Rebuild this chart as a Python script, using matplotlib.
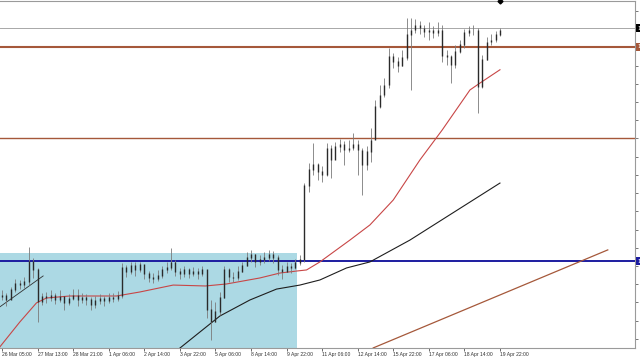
import numpy as np
import matplotlib.pyplot as plt
import matplotlib.transforms as mtransforms

# ---- price data (one drawn candle = 4 H1 bars) ----
closes = [1.07240, 1.07213, 1.07268, 1.07306, 1.07295, 1.07312, 1.07422, 1.07378, 1.07202, 1.07230,
          1.07224, 1.07235, 1.07213, 1.07230, 1.07197, 1.07219, 1.07235, 1.07213, 1.07224, 1.07213,
          1.07186, 1.07208, 1.07219, 1.07208, 1.07224, 1.07219, 1.07235, 1.07389, 1.07367, 1.07400,
          1.07378, 1.07405, 1.07356, 1.07334, 1.07328, 1.07345, 1.07378, 1.07389, 1.07416, 1.07367,
          1.07356, 1.07378, 1.07356, 1.07367, 1.07356, 1.07378, 1.07158, 1.07092, 1.07147, 1.07224,
          1.07378, 1.07339, 1.07334, 1.07367, 1.07400, 1.07444, 1.07460, 1.07422, 1.07433, 1.07444,
          1.07460, 1.07444, 1.07378, 1.07367, 1.07394, 1.07389, 1.07416, 1.07433, 1.07839, 1.07927,
          1.07954, 1.07916, 1.07899, 1.08047, 1.07982, 1.08053, 1.08064, 1.08036, 1.08047, 1.08064,
          1.08036, 1.07954, 1.08026, 1.08091, 1.08273, 1.08338, 1.08393, 1.08547, 1.08520, 1.08498,
          1.08542, 1.08668, 1.08695, 1.08717, 1.08706, 1.08684, 1.08695, 1.08679, 1.08695, 1.08553,
          1.08547, 1.08503, 1.08575, 1.08613, 1.08679, 1.08695, 1.08695, 1.08382, 1.08531, 1.08629,
          1.08640, 1.08668, 1.08695]
highs = [1.07268, 1.07251, 1.07284, 1.07328, 1.07323, 1.07339, 1.07504, 1.07444, 1.07389, 1.07251,
         1.07257, 1.07268, 1.07251, 1.07268, 1.07235, 1.07246, 1.07273, 1.07273, 1.07251, 1.07246,
         1.07230, 1.07235, 1.07246, 1.07235, 1.07251, 1.07251, 1.07262, 1.07416, 1.07405, 1.07422,
         1.07422, 1.07422, 1.07405, 1.07372, 1.07361, 1.07378, 1.07400, 1.07422, 1.07498, 1.07433,
         1.07389, 1.07400, 1.07389, 1.07394, 1.07389, 1.07400, 1.07378, 1.07213, 1.07202, 1.07257,
         1.07400, 1.07389, 1.07367, 1.07400, 1.07422, 1.07477, 1.07488, 1.07466, 1.07460, 1.07477,
         1.07488, 1.07482, 1.07460, 1.07405, 1.07422, 1.07416, 1.07438, 1.07460, 1.07855, 1.07965,
         1.08075, 1.07965, 1.07949, 1.08075, 1.08064, 1.08080, 1.08097, 1.08086, 1.08091, 1.08130,
         1.08091, 1.08047, 1.08058, 1.08157, 1.08311, 1.08393, 1.08432, 1.08596, 1.08569, 1.08547,
         1.08585, 1.08761, 1.08761, 1.08756, 1.08745, 1.08723, 1.08739, 1.08717, 1.08739, 1.08723,
         1.08585, 1.08558, 1.08613, 1.08640, 1.08701, 1.08717, 1.08723, 1.08706, 1.08558, 1.08657,
         1.08673, 1.08690, 1.08706]
lows = [1.07213, 1.07180, 1.07224, 1.07257, 1.07273, 1.07279, 1.07295, 1.07334, 1.07092, 1.07186,
        1.07197, 1.07208, 1.07191, 1.07202, 1.07158, 1.07186, 1.07213, 1.07180, 1.07197, 1.07186,
        1.07158, 1.07169, 1.07191, 1.07180, 1.07197, 1.07202, 1.07208, 1.07224, 1.07339, 1.07356,
        1.07345, 1.07367, 1.07328, 1.07312, 1.07306, 1.07317, 1.07334, 1.07361, 1.07378, 1.07345,
        1.07328, 1.07339, 1.07334, 1.07345, 1.07328, 1.07345, 1.07114, 1.06993, 1.07092, 1.07131,
        1.07224, 1.07312, 1.07312, 1.07323, 1.07367, 1.07400, 1.07422, 1.07394, 1.07405, 1.07416,
        1.07427, 1.07416, 1.07350, 1.07328, 1.07367, 1.07361, 1.07383, 1.07405, 1.07422, 1.07806,
        1.07899, 1.07872, 1.07861, 1.07894, 1.07883, 1.07993, 1.08026, 1.07954, 1.08026, 1.08036,
        1.07899, 1.07789, 1.07927, 1.07971, 1.08163, 1.08267, 1.08327, 1.08377, 1.08487, 1.08465,
        1.08498, 1.08531, 1.08366, 1.08679, 1.08673, 1.08657, 1.08640, 1.08651, 1.08662, 1.08520,
        1.08503, 1.08404, 1.08487, 1.08569, 1.08596, 1.08662, 1.08668, 1.08240, 1.08377, 1.08531,
        1.08613, 1.08629, 1.08662]
first_open = 1.07230
bars_per_candle = 4

# indicator lines (H1 bar index, price)
ma_fast_bars = [-2, 16, 31, 40, 61, 103, 124, 154, 183, 202, 232, 250, 265, 274, 286, 313, 331, 352, 376, 396, 421, 430, 448]
ma_fast_vals = [1.06955, 1.07092, 1.07197, 1.07224, 1.07235, 1.07235, 1.07257, 1.07295, 1.07290, 1.07301, 1.07334,
                1.07361, 1.07372, 1.07378, 1.07422, 1.07542, 1.07625, 1.07762, 1.07982, 1.08146, 1.08366, 1.08404, 1.08477]
ma_slow_bars = [158, 178, 196, 223, 247, 268, 286, 310, 331, 367, 448]
ma_slow_vals = [1.06939, 1.07037, 1.07125, 1.07213, 1.07273, 1.07295, 1.07323, 1.07389, 1.07422, 1.07542, 1.07855]
trend_black_bars = [-2, 37]
trend_black_vals = [1.07175, 1.07345]
trend_brown_bars = [334, 545]
trend_brown_vals = [1.06950, 1.07488]

bid_price = 1.08706
level_upper = 1.08602
level_mid = 1.08102
level_blue = 1.07427
box_right_bar = 265
box_top = 1.07471

date_labels = ["26 Mar 05:00", "27 Mar 13:00", "28 Mar 21:00", "1 Apr 06:00", "2 Apr 14:00",
               "3 Apr 22:00", "5 Apr 06:00", "8 Apr 14:00", "9 Apr 22:00", "11 Apr 06:00",
               "12 Apr 14:00", "15 Apr 22:00", "17 Apr 06:00", "18 Apr 14:00", "19 Apr 22:00"]
date_step = 32
price_ticks = [1.0700 + 0.0010 * i for i in range(19)]

fig = plt.figure(figsize=(6.4, 3.6), dpi=100)
ax = fig.add_axes([0, 12 / 360, 635 / 640, 347 / 360])
ax.set_xlim(-1.8, 569.5)
ax.set_ylim(1.069495, 1.088545)

# rectangle zone
ax.axvspan(-5, box_right_bar, ymin=0, ymax=(box_top - 1.069495) / (1.088545 - 1.069495),
           color='#acd9e4', lw=0, zorder=1)

# horizontal levels
ax.axhline(bid_price, color='#a8a8a8', lw=0.7, zorder=2)
ax.axhline(level_upper, color='#a5583a', lw=1.5, zorder=2)
ax.axhline(level_mid, color='#a5583a', lw=1.0, zorder=2)
ax.axhline(level_blue, color='#1c1ca0', lw=1.4, zorder=4)

# indicators
ax.plot(ma_fast_bars, ma_fast_vals, color='#c84646', lw=0.8, zorder=5)
ax.plot(ma_slow_bars, ma_slow_vals, color='#1e1e1e', lw=0.8, zorder=5)
ax.plot(trend_black_bars, trend_black_vals, color='#303030', lw=0.6, zorder=5)
ax.plot(trend_brown_bars, trend_brown_vals, color='#a5583a', lw=0.9, zorder=5)

# candles
pos = np.arange(len(closes)) * bars_per_candle
opens = [first_open] + closes[:-1]
o = np.array(opens)
c = np.array(closes)
ax.vlines(pos, lows, highs, color='#7a7a7a', lw=0.6, zorder=6)
ax.vlines(pos, np.minimum(o, c), np.maximum(o, c) + 0.00003, color='#2a2a2a', lw=1.0, zorder=7)

# chart shift marker
ax.plot([pos[-1]], [1], marker='D', ms=2.5, color='black',
        transform=mtransforms.blended_transform_factory(ax.transData, ax.transAxes), clip_on=False, zorder=8)

# axes styling
ax.spines['left'].set_visible(False)
for s in ['top', 'right', 'bottom']:
    ax.spines[s].set_color('#9a9a9a')
    ax.spines[s].set_linewidth(0.8)

box_prices = [bid_price, level_upper, level_blue]
ax.yaxis.tick_right()
ax.set_yticks(price_ticks)
ax.set_yticklabels(['' if min(abs(p - b) for b in box_prices) < 0.0004 else '%.4f' % p
                    for p in price_ticks])
ax.tick_params(axis='y', length=2, width=0.5, pad=1, labelsize=3.8, colors='#404040')

ax.set_xticks([i * date_step for i in range(len(date_labels))])
ax.set_xticklabels(date_labels, family='Liberation Sans')
ax.tick_params(axis='x', length=2, width=0.5, pad=1, labelsize=3.6, colors='#303030')
for lab in ax.get_xticklabels():
    lab.set_horizontalalignment('left')

# price boxes on the right scale
tr = mtransforms.blended_transform_factory(ax.transAxes, ax.transData)
for price, bg in [(bid_price, 'black'), (level_upper, '#a5583a'), (level_blue, '#1c1ca0')]:
    ax.text(1.004, price, '%.5f' % price, transform=tr, ha='left', va='center', fontsize=3.8,
            color='white', clip_on=False, zorder=9,
            bbox=dict(boxstyle='square,pad=0.25', fc=bg, ec='none'))

fig.savefig('out.png', dpi=100)
